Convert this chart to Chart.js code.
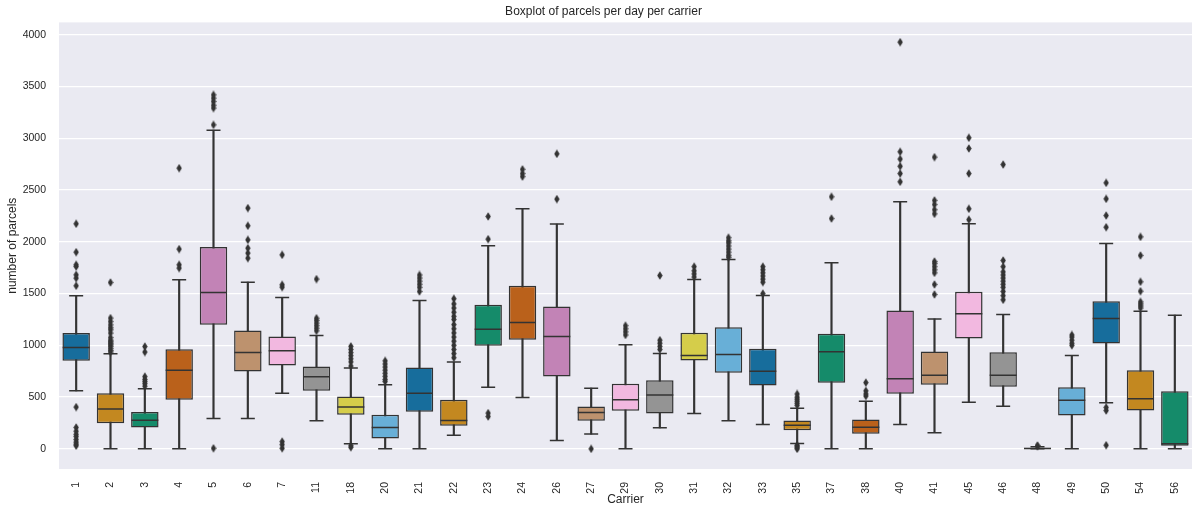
<!DOCTYPE html>
<html>
<head>
<meta charset="utf-8">
<script src="https://cdn.jsdelivr.net/npm/chart.js@4.4.1/dist/chart.umd.min.js"></script>
<style>
  body { margin: 0; background: #fff; }
  #wrap { width: 1201px; height: 506px; overflow: hidden; }
</style>
</head>
<body>
<div id="wrap"><canvas id="chart" width="1207" height="506"></canvas></div>
<script>
// carriers on the x axis
var carriers = ['1','2','3','4','5','6','7','11','18','20','21','22','23','24','26','27','29','30','31','32','33','35','37','38','40','41','45','46','48','49','50','54','56'];

// box stats (parcels per day)
var q1      = [850,248,206,473,1198,747,805,560,329,100,357,222,995,1053,698,271,367,341,853,734,612,180,638,145,531,618,1066,599,0,322,1017,370,30];
var median  = [979,384,277,760,1510,930,947,696,403,206,538,274,1156,1220,1085,351,473,520,901,911,750,228,937,209,676,711,1304,711,3,470,1259,483,50];
var q3      = [1118,538,355,963,1949,1143,1085,795,505,329,786,473,1391,1575,1375,409,628,663,1121,1175,966,273,1111,283,1336,940,1517,933,10,596,1426,759,557];
var whiskLo = [560,0,0,0,293,293,538,271,48,0,0,132,596,495,80,142,0,203,341,271,235,51,0,0,235,155,450,412,0,0,444,0,0];
var whiskHi = [1478,918,580,1633,3079,1610,1462,1095,780,618,1433,838,1961,2319,2171,586,1005,921,1636,1829,1481,392,1797,460,2386,1255,2174,1298,20,902,1984,1329,1291];

// fliers per carrier, same order as carriers
var outliers = [
  [2174,1900,1778,1761,1681,1649,1575,403,206,170,140,119,90,65,45,30],
  [1607,1263,1230,1198,1170,1150,1118,1075,1050,1035,1020,1005,990,970,950,935],
  [988,935,698,670,650,630,605],
  [2712,1930,1778,1746],
  [3420,3388,3356,3320,3292,3130,5],
  [2326,2155,2019,1939,1891,1842],
  [1874,1585,1562,70,40,5],
  [1640,1262,1240,1215,1190,1165,1140],
  [990,960,930,900,870,840,800,30,15],
  [850,820,790,760,730,700,670,650],
  [1680,1650,1620,1590,1560,1520],
  [1450,1400,1360,1320,1280,1250,1200,1160,1120,1080,1040,1000,960,920,880],
  [2245,2026,345,312],
  [2700,2660,2630],
  [2850,2413],
  [0],
  [1190,1160,1130,1100],
  [1674,1050,1020,990,960],
  [1760,1720,1690,1660],
  [2040,2010,1990,1960,1930,1900,1870,1850],
  [1760,1730,1700,1670,1640,1610,1500],
  [530,500,480,460,440,420,35,25,10,0],
  [2435,2225],
  [640,560,530,510],
  [3929,2870,2800,2730,2660,2580],
  [2818,2400,2360,2310,2270,1810,1790,1760,1730,1700,1588,1491],
  [3005,2902,2660,2319,2214],
  [2747,1820,1760,1710,1680,1650,1620,1590,1560,1520,1480,1440],
  [25,32],
  [1100,1080,1050,1020,1000],
  [2570,2415,2254,2141,400,370,35],
  [2048,1868,1614,1523,1420,1400,1380,1360],
  []
];

var yTicks = [0,500,1000,1500,2000,2500,3000,3500,4000];

// seaborn colorblind palette, desaturated like seaborn boxplot does (0.75)
var palette = ['#0173B2','#DE8F05','#029E73','#D55E00','#CC78BC','#CA9161','#FBAFE4','#949494','#ECE133','#56B4E9'];
var lineGray = '#333333';

function desat(hex, prop) {
  var r = parseInt(hex.substr(1,2),16)/255, g = parseInt(hex.substr(3,2),16)/255, b = parseInt(hex.substr(5,2),16)/255;
  var mx = Math.max(r,g,b), mn = Math.min(r,g,b);
  var l = (mx+mn)/2;
  if (mx == mn) return hex;
  var s = l < 0.5 ? (mx-mn)/(mx+mn) : (mx-mn)/(2-mx-mn);
  var c = (1 - Math.abs(2*l-1)) * s * prop;
  var m = l - c/2;
  var f = function(v) { return Math.round((m + (v-mn)/(mx-mn)*c)*255); };
  return 'rgb(' + f(r) + ',' + f(g) + ',' + f(b) + ')';
}
var boxColors = carriers.map(function(c, i) { return desat(palette[i % palette.length], 0.75); });

// thin diamond marker like matplotlib 'd'
var diamond = document.createElement('canvas');
diamond.width = 6; diamond.height = 9;
var dctx = diamond.getContext('2d');
dctx.fillStyle = lineGray;
dctx.beginPath();
dctx.moveTo(3, 0.3); dctx.lineTo(5.7, 4.5); dctx.lineTo(3, 8.7); dctx.lineTo(0.3, 4.5);
dctx.closePath(); dctx.fill();

var boxData = carriers.map(function(c, i) { return [q1[i], q3[i]]; });
var whiskData = carriers.map(function(c, i) { return [whiskLo[i], whiskHi[i]]; });
var medData = carriers.map(function(c, i) { return {x: c, y: median[i]}; });
var capData = [];
carriers.forEach(function(c, i) {
  capData.push({x: c, y: whiskLo[i]});
  capData.push({x: c, y: whiskHi[i]});
});
var flierData = [];
carriers.forEach(function(c, i) {
  outliers[i].forEach(function(v) { flierData.push({x: c, y: v}); });
});

// grey plot background
var plotBg = {
  id: 'plotBg',
  beforeDraw: function(chart) {
    var a = chart.chartArea, ctx = chart.ctx;
    ctx.save();
    ctx.fillStyle = '#EAEAF2';
    ctx.fillRect(a.left, a.top, a.right - a.left, a.bottom - a.top);
    ctx.restore();
  }
};

var font = 'Liberation Sans, Arial, sans-serif';
var textColor = '#262626';

new Chart(document.getElementById('chart'), {
  type: 'bar',
  data: {
    labels: carriers,
    datasets: [
      {
        label: 'whiskers', data: whiskData, grouped: false, order: 5,
        backgroundColor: lineGray, barThickness: 1.5, borderWidth: 0
      },
      {
        label: 'boxes', data: boxData, grouped: false, order: 4,
        backgroundColor: boxColors, borderColor: lineGray, borderWidth: 1.5, borderSkipped: false,
        barPercentage: 0.8, categoryPercentage: 1.0
      },
      {
        type: 'line', label: 'median', data: medData, order: 2, showLine: false,
        pointStyle: 'line', pointRadius: 13.5, pointBorderWidth: 1.5, pointBorderColor: lineGray
      },
      {
        type: 'line', label: 'caps', data: capData, order: 3, showLine: false,
        pointStyle: 'line', pointRadius: 7, pointBorderWidth: 1.5, pointBorderColor: lineGray
      },
      {
        type: 'line', label: 'fliers', data: flierData, order: 1, showLine: false,
        pointStyle: diamond, pointRadius: 3
      }
    ]
  },
  options: {
    responsive: false,
    animation: false,
    devicePixelRatio: 1,
    layout: { padding: 0 },
    plugins: {
      legend: { display: false },
      tooltip: { enabled: false },
      title: {
        display: true,
        text: 'Boxplot of parcels per day per carrier',
        color: textColor,
        font: { family: font, size: 12, weight: 'normal', lineHeight: 1.2 },
        padding: { top: 4, bottom: 4 }
      }
    },
    scales: {
      x: {
        offset: true,
        grid: { display: false },
        border: { display: false },
        ticks: {
          autoSkip: false, minRotation: 90, maxRotation: 90, padding: 5,
          color: textColor, font: { family: font, size: 10.5 }
        },
        title: {
          display: true, text: 'Carrier', color: textColor,
          font: { family: font, size: 12, lineHeight: 1.0 }, padding: { top: 0, bottom: 0 }
        },
        afterFit: function(s) { s.height = 37; }
      },
      y: {
        min: -195, max: 4120,
        grid: { color: '#ffffff', lineWidth: 1.2, drawTicks: false },
        border: { display: false },
        ticks: {
          padding: 13, color: textColor, font: { family: font, size: 10.5 },
          callback: function(v) { return String(v); }
        },
        afterBuildTicks: function(s) { s.ticks = yTicks.map(function(v) { return {value: v}; }); },
        title: {
          display: true, text: 'number of parcels', color: textColor,
          font: { family: font, size: 12, lineHeight: 1.2 }, padding: { top: 5, bottom: 0 }
        },
        afterFit: function(s) { s.width = 59; }
      }
    }
  },
  plugins: [plotBg]
});
</script>
</body>
</html>
